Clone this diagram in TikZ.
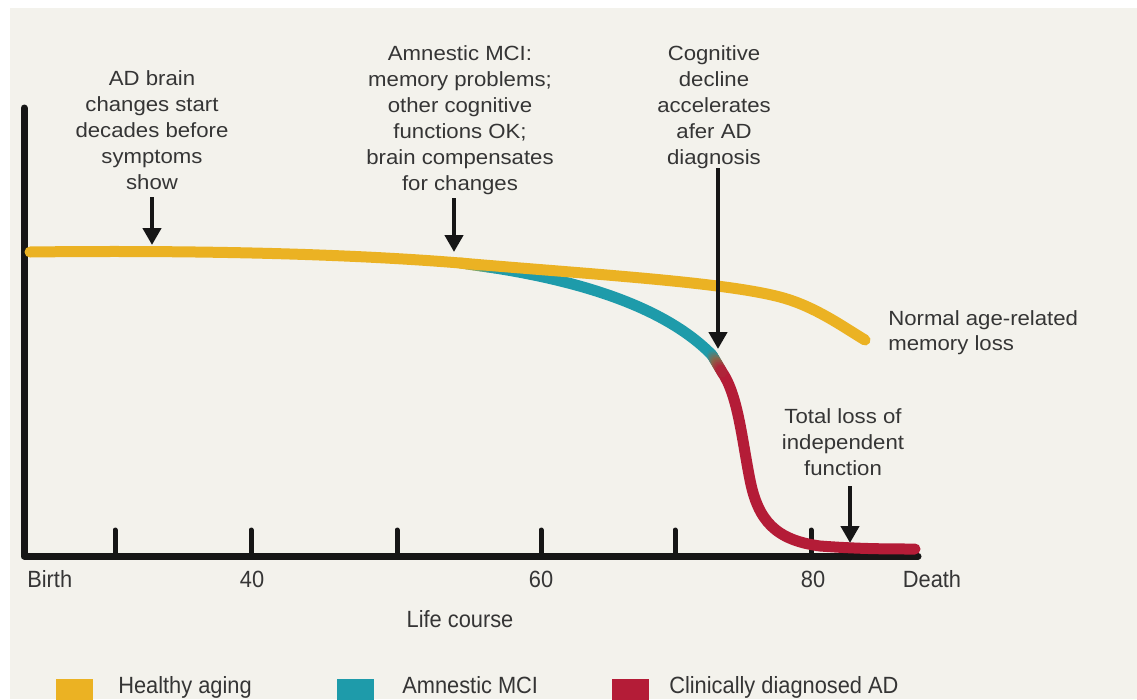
\documentclass[tikz,border=0pt]{standalone}
\usepackage{fontspec}
\setmainfont{Liberation Sans}
\newfontfamily\annfont[FakeStretch=1.08]{Liberation Sans}
\newfontfamily\labfont[FakeStretch=0.93]{Liberation Sans}
\usetikzlibrary{arrows.meta,calc}
\definecolor{bg}{HTML}{F3F2EC}
\definecolor{cY}{HTML}{EBB223}
\definecolor{cT}{HTML}{1E9BAA}
\definecolor{cR}{HTML}{B41C37}
\definecolor{cB}{HTML}{86684A}
\definecolor{txt}{HTML}{353535}
\definecolor{ink}{HTML}{161616}
\tikzset{
  ann/.style={font=\annfont\fontsize{15.4}{19.5}\selectfont, text=txt, align=center, inner sep=0pt, anchor=north},
  annl/.style={font=\annfont\fontsize{15.4}{18.8}\selectfont, text=txt, align=left, inner sep=0pt, anchor=north west},
  lab/.style={font=\labfont\fontsize{17.6}{20}\selectfont, text=txt, inner sep=0pt, anchor=base},
  axisline/.style={draw=ink, line width=5.25pt, line cap=round, line join=round},
  tickmark/.style={draw=ink, line width=3.75pt, line cap=round},
  arr/.style={draw=ink, line width=3.2pt, -{Triangle[width=13.5pt,length=12.75pt]}},
  curve/.style={line width=8.25pt, line cap=round},
  legbox/.style={inner sep=0pt, minimum width=27.75pt, minimum height=22pt, anchor=north west}
}
\begin{document}
\begin{tikzpicture}[x=0.75pt,y=-0.75pt]
\useasboundingbox (0,0) rectangle (1137,699);
\clip (0,0) rectangle (1137,699);
\fill[white] (0,0) rectangle (1137,699);
\fill[bg] (10,8) rectangle (1137,699);

% axes
\coordinate (Ytop) at (24,108);
\coordinate (O) at (24,556);
\coordinate (Xend) at (918,556);
\draw[axisline] (Ytop) -- (O) -- (Xend);
\foreach \x in {115,251,397,541,675,811}
  \draw[tickmark] (\x,556) -- (\x,530);

% lower branch (MCI then AD)
\coordinate (B0) at (460,263);
\coordinate (B1) at (495,268);
\coordinate (B2) at (712,355);
\coordinate (B3) at (722,372);
\coordinate (B4) at (750,480);
\coordinate (B5) at (820,546);
\coordinate (B6) at (915,549);
\draw[curve, cT] (B1) .. controls (590,283) and (668,310) .. (B2);
\draw[curve, cR] (B3) .. controls (738,395) and (742,440) .. (B4)
  .. controls (758,520) and (775,540) .. (B5)
  .. controls (860,549) and (890,549) .. (B6);
\foreach \i in {0,...,9}{
  \pgfmathtruncatemacro\p{10*\i+5}
  \draw[curve, color=cT!\p!cY] ($(B0)!\i/10!(B1)$) -- ($(B0)!{(\i+1)/10}!(B1)$);
}
\foreach \i in {0,...,4}{
  \pgfmathtruncatemacro\p{20*\i+10}
  \draw[curve, color=cB!\p!cT] ($(B2)!\i/10!(B3)$) -- ($(B2)!{(\i+1)/10}!(B3)$);
}
\foreach \i in {5,...,9}{
  \pgfmathtruncatemacro\p{20*(\i-5)+10}
  \draw[curve, color=cR!\p!cB] ($(B2)!\i/10!(B3)$) -- ($(B2)!{(\i+1)/10}!(B3)$);
}

% normal ageing curve
\coordinate (Y0) at (30,252);
\coordinate (Y1) at (790,300);
\coordinate (Y2) at (865,340);
\draw[curve, cY] (Y0) .. controls (200,250) and (350,254) .. (B0)
  .. controls (600,275) and (740,283) .. (Y1)
  .. controls (820,310) and (845,328) .. (Y2);

% annotations
\node[ann] (t1) at (152,70) {AD brain\\changes start\\decades before\\symptoms\\show};
\node[ann] (t2) at (460,45) {Amnestic MCI:\\memory problems;\\other cognitive\\functions OK;\\brain compensates\\for changes};
\node[ann] (t3) at (714,45) {Cognitive\\decline\\accelerates\\afer AD\\diagnosis};
\node[annl] (t4) at (888,310) {Normal age-related\\memory loss};
\node[ann] (t5) at (843,408) {Total loss of\\independent\\function};

% arrows
\coordinate (a1s) at (152,197); \coordinate (a1e) at (152,245);
\coordinate (a2s) at (454,198); \coordinate (a2e) at (454,252);
\coordinate (a3s) at (718,168); \coordinate (a3e) at (718,349);
\coordinate (a4s) at (850,486); \coordinate (a4e) at (850,543);
\draw[arr] (a1s) -- (a1e);
\draw[arr] (a2s) -- (a2e);
\draw[arr] (a3s) -- (a3e);
\draw[arr] (a4s) -- (a4e);

% axis labels
\node[lab, anchor=base west] (birth) at (27,587) {Birth};
\node[lab] (l40) at (252,587) {40};
\node[lab] (l60) at (541,587) {60};
\node[lab] (l80) at (813,587) {80};
\node[lab] (death) at (932,587) {Death};
\node[lab] (life) at (460,627) {Life course};

% legend
\node[legbox, fill=cY] (k1) at (56,679) {};
\node[legbox, fill=cT] (k2) at (337,679) {};
\node[legbox, fill=cR] (k3) at (612,679) {};
\node[lab, anchor=base west] (g1) at (118,693) {Healthy aging};
\node[lab, anchor=base west] (g2) at (402,693) {Amnestic MCI};
\node[lab, anchor=base west] (g3) at (669,693) {Clinically diagnosed AD};
\end{tikzpicture}
\end{document}
